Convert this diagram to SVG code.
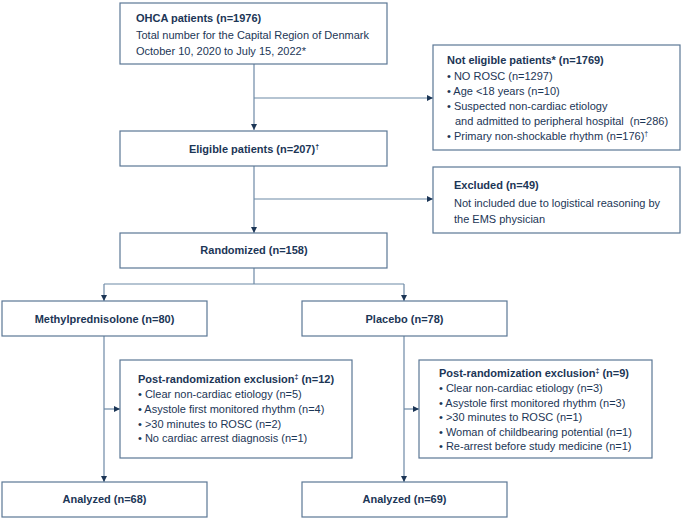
<svg xmlns="http://www.w3.org/2000/svg" width="685" height="519" viewBox="0 0 685 519">
<style>
.box{fill:#ffffff;stroke:#5b7795;stroke-width:1.2}
.ln{fill:none;stroke:#6d89a6;stroke-width:1.2}
text{font-family:"Liberation Sans",Arial,sans-serif;font-size:11px;fill:#1c3656}
.b{font-weight:bold}
.c{text-anchor:middle}
.sup{font-size:7px}
</style>
<defs>
<marker id="ah" viewBox="0 0 10 10" refX="10" refY="5" markerWidth="6" markerHeight="6" markerUnits="userSpaceOnUse" orient="auto">
<path d="M0,0 L10,5 L0,10 z" fill="#1c3656"/>
</marker>
</defs>
<rect width="685" height="519" fill="#ffffff"/>
<g id="connectors">
<path class="ln" d="M254,64 V130" marker-end="url(#ah)"/>
<path class="ln" d="M254,98 H433" marker-end="url(#ah)"/>
<path class="ln" d="M254,166 V233" marker-end="url(#ah)"/>
<path class="ln" d="M254,199 H433" marker-end="url(#ah)"/>
<path class="ln" d="M254,268 V284"/>
<path class="ln" d="M104,284 H404"/>
<path class="ln" d="M104,284 V301" marker-end="url(#ah)"/>
<path class="ln" d="M404,284 V301" marker-end="url(#ah)"/>
<path class="ln" d="M104,336 V482" marker-end="url(#ah)"/>
<path class="ln" d="M104,409 H120" marker-end="url(#ah)"/>
<path class="ln" d="M404,336 V482" marker-end="url(#ah)"/>
<path class="ln" d="M404,409 H419" marker-end="url(#ah)"/>
</g>
<g id="ohca">
<rect class="box" x="120" y="3" width="267" height="61"/>
<text x="136" y="22" class="b">OHCA patients (n=1976)</text>
<text x="136" y="39">Total number for the Capital Region of Denmark</text>
<text x="136" y="55">October 10, 2020 to July 15, 2022*</text>
</g>
<g id="not-eligible">
<rect class="box" x="433" y="45" width="247" height="105"/>
<text x="447" y="64" class="b">Not eligible patients* (n=1769)</text>
<text x="447" y="80">• NO ROSC (n=1297)</text>
<text x="447" y="95">• Age &lt;18 years (n=10)</text>
<text x="447" y="110">• Suspected non-cardiac etiology</text>
<text x="455" y="125">and admitted to peripheral hospital <tspan dx="3">(n=286)</tspan></text>
<text x="447" y="140">• Primary non-shockable rhythm (n=176)<tspan class="sup" dy="-4">†</tspan></text>
</g>
<g id="eligible">
<rect class="box" x="120" y="131" width="267" height="35"/>
<text x="254" y="153" class="b c">Eligible patients (n=207)<tspan class="sup" dy="-4">†</tspan></text>
</g>
<g id="excluded">
<rect class="box" x="433" y="167" width="247" height="66"/>
<text x="454" y="189" class="b">Excluded (n=49)</text>
<text x="454" y="207">Not included due to logistical reasoning by</text>
<text x="454" y="223">the EMS physician</text>
</g>
<g id="randomized">
<rect class="box" x="120" y="233" width="267" height="35"/>
<text x="254" y="254" class="b c">Randomized (n=158)</text>
</g>
<g id="methylprednisolone">
<rect class="box" x="2" y="301" width="205" height="35"/>
<text x="104.5" y="323" class="b c">Methylprednisolone (n=80)</text>
</g>
<g id="placebo">
<rect class="box" x="302" y="301" width="205" height="35"/>
<text x="404.5" y="323" class="b c">Placebo (n=78)</text>
</g>
<g id="post-excl-left">
<rect class="box" x="120" y="360" width="232" height="98"/>
<text x="138" y="383" class="b">Post-randomization exclusion<tspan class="sup" dy="-4">‡</tspan><tspan dy="4"> (n=12)</tspan></text>
<text x="138" y="398">• Clear non-cardiac etiology (n=5)</text>
<text x="138" y="413">• Asystole first monitored rhythm (n=4)</text>
<text x="138" y="427.5">• &gt;30 minutes to ROSC (n=2)</text>
<text x="138" y="442">• No cardiac arrest diagnosis (n=1)</text>
</g>
<g id="post-excl-right">
<rect class="box" x="419" y="360" width="233" height="98"/>
<text x="439" y="377" class="b">Post-randomization exclusion<tspan class="sup" dy="-4">‡</tspan><tspan dy="4"> (n=9)</tspan></text>
<text x="439" y="392">• Clear non-cardiac etiology (n=3)</text>
<text x="439" y="406.5">• Asystole first monitored rhythm (n=3)</text>
<text x="439" y="421">• &gt;30 minutes to ROSC (n=1)</text>
<text x="439" y="435.5">• Woman of childbearing potential (n=1)</text>
<text x="439" y="450">• Re-arrest before study medicine (n=1)</text>
</g>
<g id="analyzed-left">
<rect class="box" x="2" y="482" width="205" height="35"/>
<text x="104.5" y="503" class="b c">Analyzed (n=68)</text>
</g>
<g id="analyzed-right">
<rect class="box" x="302" y="482" width="205" height="35"/>
<text x="404.5" y="503" class="b c">Analyzed (n=69)</text>
</g>
</svg>
